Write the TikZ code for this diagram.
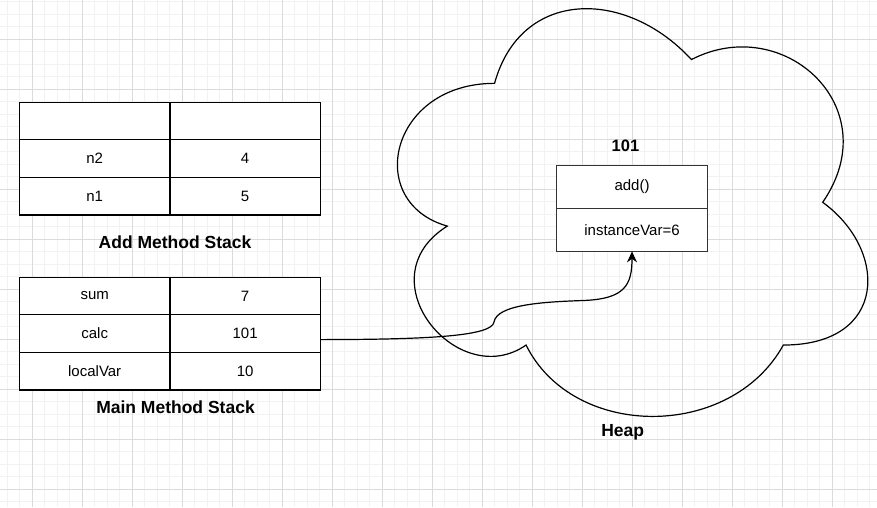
\documentclass[tikz,border=0pt]{standalone}
\usepackage{fontspec}
\setmainfont{Liberation Sans}
\usetikzlibrary{arrows.meta,positioning}

\begin{document}
\begin{tikzpicture}[
  x=1pt, y=-1pt,
  node distance=0pt,
  minorline/.style={draw=black!5,line width=1pt},
  majorline/.style={draw=black!14,line width=1pt},
  cell/.style={draw,line width=1.2pt,outer sep=0pt,inner sep=0pt,minimum width=150.4pt,minimum height=37.6pt,fill=white,font=\fontsize{15}{18}\selectfont},
  objcell/.style={cell,draw=black!80,minimum width=150.6pt,minimum height=43.5pt},
  title/.style={font=\fontsize{17.5}{21}\selectfont\bfseries},
  cloudline/.style={draw,line width=1.2pt},
  link/.style={-{Stealth[length=11pt,width=10pt]},line width=1.2pt}
]
\useasboundingbox (0,0) rectangle (877,507);
% background grid
\foreach \i in {0,...,69} \draw[minorline] ({7+12.5*\i},0) -- ({7+12.5*\i},507);
\foreach \i in {0,...,40} \draw[minorline] (0,{1.8+12.5*\i}) -- (877,{1.8+12.5*\i});
\foreach \i in {0,...,17} \draw[majorline] ({32+50*\i},0) -- ({32+50*\i},507);
\foreach \i in {0,...,9} \draw[majorline] (0,{39.3+50*\i}) -- (877,{39.3+50*\i});

% heap cloud
\begin{scope}[shift={(363.3,-35.6)},x=525pt,y=-475.8pt]
\path[cloudline] (0.25,0.25) .. controls (0.05,0.25) and (0,0.5) .. (0.16,0.55)
  .. controls (0,0.66) and (0.18,0.9) .. (0.31,0.8)
  .. controls (0.4,1) and (0.7,1) .. (0.8,0.8)
  .. controls (1,0.8) and (1,0.6) .. (0.875,0.5)
  .. controls (1,0.3) and (0.8,0.1) .. (0.625,0.2)
  .. controls (0.5,0.05) and (0.3,0.05) .. (0.25,0.25) -- cycle;
\end{scope}
\node[title] (heap) at (622.7,432.7) {Heap};

% object 101
\node[objcell] (objm) at (632,186.9) {add()};
\node[objcell, below=of objm, minimum height=42.7pt] (objvar) {instanceVar=6};
\node[title, font=\fontsize{16.5}{20}\selectfont\bfseries] (objid) at (625.5,146) {101};

% add method stack
\node[cell] (addk) at (94.7,121) {};
\node[cell, right=of addk] (addv) {};
\node[cell, below=of addk] (n2k) {n2};
\node[cell, right=of n2k] (n2v) {4};
\node[cell, below=of n2k] (n1k) {n1};
\node[cell, right=of n1k] (n1v) {5};
\node[title] (addtitle) at (175,242.5) {Add Method Stack};

% main method stack
\node[cell] (sumk) at (94.7,296) {sum};
\node[cell, right=of sumk] (sumv) {7};
\node[cell, below=of sumk] (calck) {calc};
\node[cell, right=of calck] (calcv) {101};
\node[cell, below=of calck] (localk) {localVar};
\node[cell, right=of localk] (localv) {10};
\node[title] (maintitle) at (175.5,407.5) {Main Method Stack};

% reference to the heap object
\draw[link] ([yshift=-6pt]calcv.east) .. controls (430,339.5) and (492,336) .. (494,322)
  .. controls (497,305) and (540,302) .. (583,300.5)
  .. controls (625,299) and (632,285) .. (objvar.south);
\end{tikzpicture}
\end{document}
